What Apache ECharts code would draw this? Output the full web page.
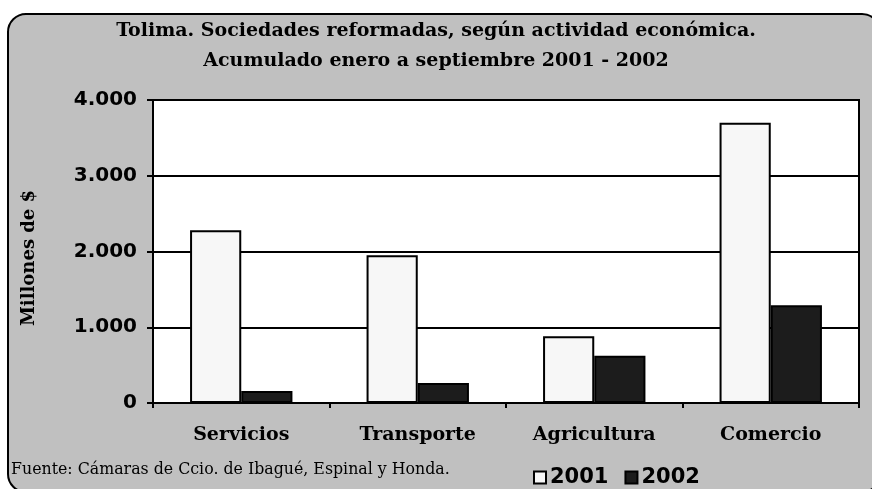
<!DOCTYPE html>
<html>
<head>
<meta charset="utf-8">
<script src="https://cdn.jsdelivr.net/npm/echarts@6/dist/echarts.min.js"></script>
<style>
  html, body { margin: 0; padding: 0; background: #ffffff; }
  #chart { width: 872px; height: 489px; }
</style>
</head>
<body>
<div id="chart"></div>
<script>
// Data
const categories = ["Servicios", "Transporte", "Agricultura", "Comercio"]
const values2001 = [2280, 1950, 880, 3700]
const values2002 = [160, 265, 625, 1290]
const yTicks = [0, 1000, 2000, 3000, 4000]

const serif = "'DejaVu Serif', serif"
const sans = "'DejaVu Sans', Verdana, sans-serif"

const chart = echarts.init(document.getElementById("chart"))

const fmt = v => String(v).replace(/\B(?=(\d{3})+(?!\d))/g, ".")

chart.setOption({
  backgroundColor: "#ffffff",
  animation: false,
  graphic: [
    {
      type: "rect",
      shape: { x: 8, y: 14, width: 872, height: 478, r: 18 },
      style: { fill: "#c0c0c0", stroke: "#000000", lineWidth: 2 },
      z: -10
    },
    {
      type: "text",
      x: 11,
      y: 470,
      style: {
        text: "Fuente: Cámaras de Ccio. de Ibagué, Espinal y Honda.",
        font: "15.8px " + serif,
        fill: "#000",
        verticalAlign: "middle"
      }
    },
    {
      type: "text",
      x: 29,
      y: 258,
      rotation: Math.PI / 2,
      style: {
        text: "Millones de $",
        font: "bold 18px " + serif,
        fill: "#000",
        align: "center",
        verticalAlign: "middle"
      }
    }
  ],
  title: {
    text: "Tolima. Sociedades reformadas, según actividad económica.\nAcumulado enero a septiembre 2001 - 2002",
    left: "center",
    top: 11,
    textStyle: {
      fontFamily: serif,
      fontWeight: "bold",
      fontSize: 19,
      lineHeight: 30,
      color: "#000"
    }
  },
  legend: {
    left: 528,
    top: 462,
    itemWidth: 12,
    itemHeight: 12,
    itemGap: 16,
    icon: "rect",
    textStyle: { fontFamily: sans, fontWeight: "bold", fontSize: 21, color: "#000", padding: [0, 0, 0, -1] },
    data: ["2001", "2002"]
  },
  grid: {
    left: 153, right: 13, top: 100, bottom: 86,
    show: true, backgroundColor: "#ffffff", borderColor: "#000", borderWidth: 2,
    containLabel: false
  },
  xAxis: {
    type: "category",
    data: categories,
    axisLine: { lineStyle: { color: "#000", width: 2 } },
    axisTick: { show: true, length: 5, lineStyle: { color: "#000", width: 2 } },
    axisLabel: {
      margin: 23,
      fontFamily: serif,
      fontWeight: "bold",
      fontSize: 19,
      color: "#000"
    },
    splitLine: { show: false }
  },
  yAxis: {
    type: "value",
    min: 0,
    max: 4000,
    interval: 1000,
    axisLine: { show: true, lineStyle: { color: "#000", width: 2 } },
    axisTick: { show: true, length: 6, lineStyle: { color: "#000", width: 2 } },
    axisLabel: {
      margin: 16,
      fontFamily: sans,
      fontWeight: "bold",
      fontSize: 20,
      color: "#000",
      formatter: v => yTicks.includes(v) ? fmt(v) : ""
    },
    splitLine: { show: true, lineStyle: { color: "#000", width: 2 } }
  },
  series: [
    {
      name: "2001",
      type: "bar",
      data: values2001,
      barGap: "0%",
      barCategoryGap: "42%",
      itemStyle: { color: "#f7f7f7", borderColor: "#000", borderWidth: 2 }
    },
    {
      name: "2002",
      type: "bar",
      data: values2002,
      itemStyle: { color: "#1c1c1c", borderColor: "#000", borderWidth: 2 }
    }
  ]
})
</script>
</body>
</html>
